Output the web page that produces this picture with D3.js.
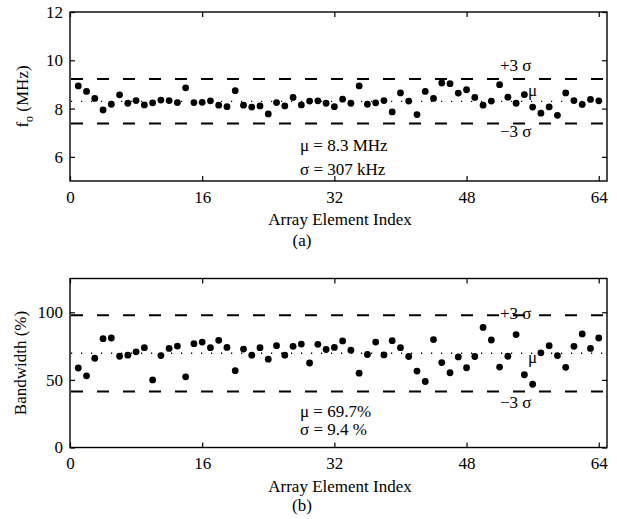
<!DOCTYPE html>
<html>
<head>
<meta charset="utf-8">
<script src="https://cdn.jsdelivr.net/npm/d3@7"></script>
<style>
  body { margin: 0; background: #fff; }
  svg text { font-family: "Liberation Serif", "DejaVu Serif", serif !important; fill: #000; }
</style>
</head>
<body>
<div id="wrapper"></div>
<script>
// data
const xTicks = [0, 16, 32, 48, 64]
const freqTicks = [6, 8, 10, 12]
const bwTicks = [0, 50, 100]

const freqValues = [
  8.94, 8.71, 8.42, 7.94, 8.18, 8.57, 8.22, 8.33, 8.15, 8.24, 8.35, 8.33, 8.25, 8.86, 8.25, 8.26,
  8.32, 8.14, 8.08, 8.74, 8.14, 8.06, 8.11, 7.78, 8.25, 8.11, 8.46, 8.15, 8.31, 8.32, 8.22, 8.08,
  8.39, 8.22, 8.94, 8.18, 8.24, 8.33, 7.86, 8.65, 8.31, 7.75, 8.71, 8.42, 9.06, 9.03, 8.64, 8.78,
  8.46, 8.14, 8.31, 8.99, 8.47, 8.22, 8.58, 8.06, 7.81, 8.07, 7.72, 8.65, 8.33, 8.17, 8.38, 8.32
]
const bwValues = [
  58.8, 53, 66, 80.5, 81, 67.5, 68.3, 70.8, 73.8, 50, 68, 73.3, 75, 52.3, 76.8, 78,
  73.8, 79.3, 74, 56.8, 72.8, 68.3, 73.8, 65.3, 75.3, 68.3, 74.8, 76.5, 62.5, 76.3, 72.5, 74,
  78.8, 72, 55, 68.8, 78, 68.5, 79, 73.8, 67.3, 56.5, 48.8, 79.8, 62.8, 55.3, 67, 59,
  67.3, 88.8, 79.5, 59.5, 67.5, 83.5, 53.8, 46.8, 70, 75.3, 68, 59.3, 74.8, 84, 73.3, 81
]

const freqMean = 8.3
const freqSigma = 0.307
const bwMean = 69.7
const bwSigma = 9.4

const panels = [
  {
    values: freqValues, ticks: freqTicks, domain: [5, 12],
    mean: freqMean, sigma: freqSigma,
    top: 12, bottom: 181, xPad: 10,
    yLabel: "f", ySub: "o", yLabelRest: " (MHz)", yLabelX: 28,
    stats: ["\u03bc = 8.3 MHz", "\u03c3 = 307 kHz"], statsY: [150.5, 175],
    plusY: 71, muY: 96, minusY: 137,
    caption: "(a)", captionY: 246
  },
  {
    values: bwValues, ticks: bwTicks, domain: [0, 125],
    mean: bwMean, sigma: bwSigma,
    top: 278.5, bottom: 447.5, xPad: 9,
    yLabel: "Bandwidth (%)", ySub: null, yLabelRest: "", yLabelX: 26,
    stats: ["\u03bc = 69.7%", "\u03c3 = 9.4 %"], statsY: [416.5, 435],
    plusY: 319, muY: 363, minusY: 408,
    caption: "(b)", captionY: 511
  }
]

const width = 617
const height = 519
const left = 70
const right = 607
const font = "Liberation Serif"

const svg = d3.select("#wrapper")
  .append("svg")
  .attr("width", width)
  .attr("height", height)
  .attr("font-family", font)

const xScale = d3.scaleLinear()
  .domain([0, 65])
  .range([left, right])

panels.forEach(p => {
  const yScale = d3.scaleLinear()
    .domain(p.domain)
    .range([p.bottom, p.top])

  const g = svg.append("g")

  // reference lines
  const lines = [
    { v: p.mean + 3 * p.sigma, dash: "12,14", w: 2 },
    { v: p.mean - 3 * p.sigma, dash: "12,14", w: 2 },
    { v: p.mean, dash: "1.2,8.8", w: 1.3 }
  ]
  g.selectAll(".ref")
    .data(lines)
    .join("line")
    .attr("x1", left + 1)
    .attr("x2", right)
    .attr("y1", d => yScale(d.v))
    .attr("y2", d => yScale(d.v))
    .attr("stroke", "#000")
    .attr("stroke-width", d => d.w)
    .attr("stroke-dasharray", d => d.dash)

  // points
  g.selectAll("circle")
    .data(p.values)
    .join("circle")
    .attr("cx", (d, i) => xScale(i + 1))
    .attr("cy", d => yScale(d))
    .attr("r", 3.4)
    .attr("fill", "#000")

  // axes, ticks pointing inward
  const xAxis = g.append("g")
    .attr("transform", `translate(0,${p.bottom})`)
    .call(d3.axisBottom(xScale).tickValues(xTicks).tickSize(-5).tickPadding(p.xPad).tickFormat(d3.format("d")))
  const xTop = g.append("g")
    .attr("transform", `translate(0,${p.top})`)
    .call(d3.axisTop(xScale).tickValues(xTicks).tickSize(-5).tickFormat(""))
  const yAxis = g.append("g")
    .attr("transform", `translate(${left},0)`)
    .call(d3.axisLeft(yScale).tickValues(p.ticks).tickSize(-5).tickPadding(7).tickFormat(d3.format("d")))
  const yRight = g.append("g")
    .attr("transform", `translate(${right},0)`)
    .call(d3.axisRight(yScale).tickValues(p.ticks).tickSize(-5).tickFormat(""))

  ;[xAxis, xTop, yAxis, yRight].forEach(a => {
    a.attr("font-family", font).attr("font-size", 17)
    a.select(".domain").remove()
    a.selectAll("line").attr("stroke", "#000").attr("stroke-width", 1.2)
  })

  // box
  g.append("rect")
    .attr("x", left)
    .attr("y", p.top)
    .attr("width", right - left)
    .attr("height", p.bottom - p.top)
    .attr("fill", "none")
    .attr("stroke", "#000")
    .attr("stroke-width", 1.4)

  // labels on the lines
  g.append("text").attr("x", 500).attr("y", p.plusY).attr("font-size", 17).text("+3 \u03c3")
  g.append("text").attr("x", 528).attr("y", p.muY).attr("font-size", 17).text("\u03bc")
  g.append("text").attr("x", 500).attr("y", p.minusY).attr("font-size", 17).text("\u22123 \u03c3")

  // statistics
  g.selectAll(".stat")
    .data(p.stats)
    .join("text")
    .attr("x", 300)
    .attr("y", (d, i) => p.statsY[i])
    .attr("font-size", 17)
    .text(d => d)

  // x label and caption
  g.append("text")
    .attr("x", 340)
    .attr("y", p.bottom + 44)
    .attr("text-anchor", "middle")
    .attr("font-size", 17)
    .text("Array Element Index")
  g.append("text")
    .attr("x", 302)
    .attr("y", p.captionY)
    .attr("text-anchor", "middle")
    .attr("font-size", 17)
    .text(p.caption)

  // y label
  const yl = g.append("text")
    .attr("transform", `translate(${p.yLabelX},${(p.top + p.bottom) / 2}) rotate(-90)`)
    .attr("text-anchor", "middle")
    .attr("font-size", 17)
  yl.append("tspan").text(p.yLabel)
  if (p.ySub) {
    yl.append("tspan").attr("dy", 5).attr("font-size", 12).text(p.ySub)
    yl.append("tspan").attr("dy", -5).text(p.yLabelRest)
  }
})
</script>
</body>
</html>
